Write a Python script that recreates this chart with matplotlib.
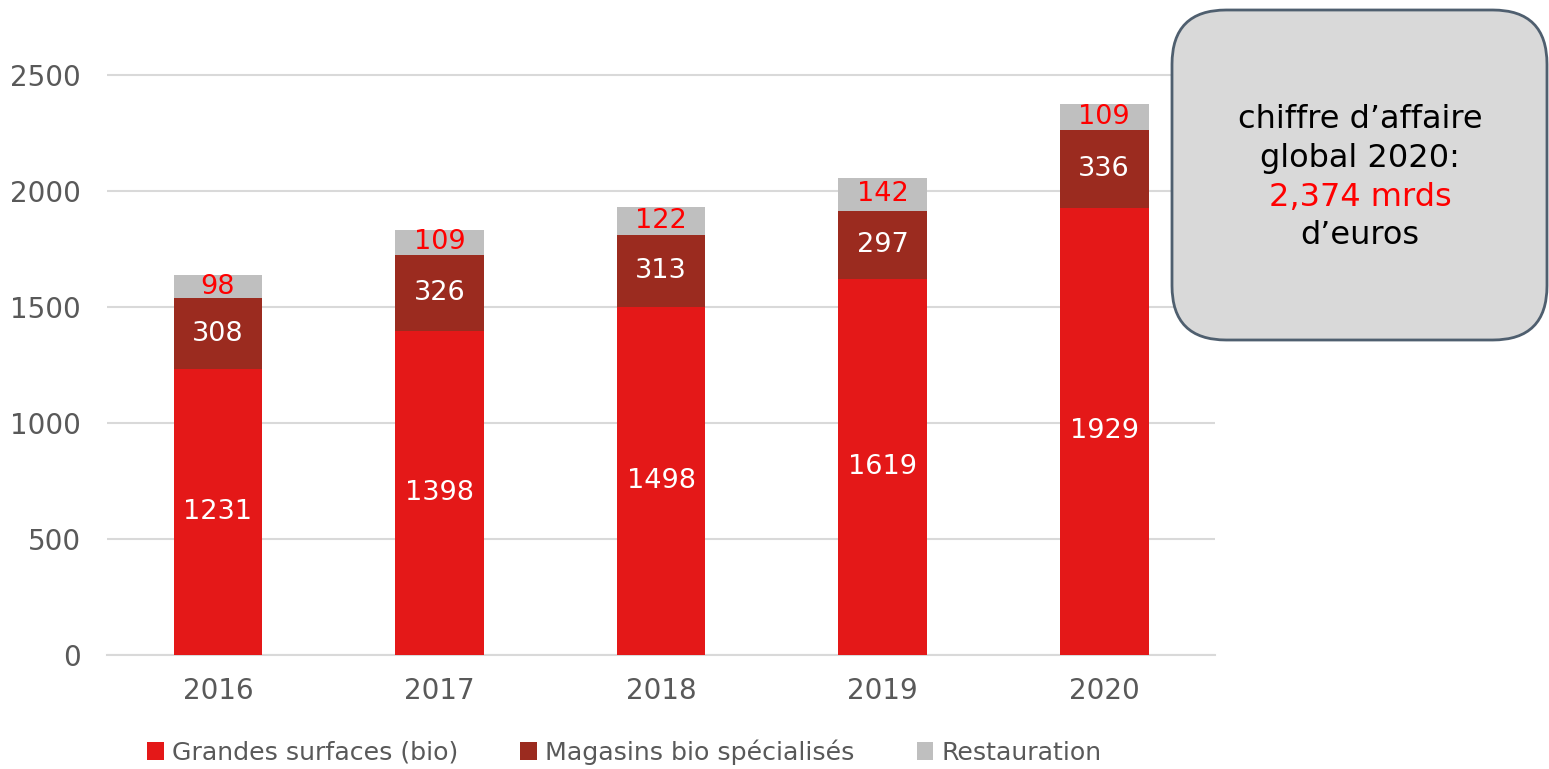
import matplotlib.pyplot as plt
from matplotlib.patches import FancyBboxPatch
import numpy as np

# Données (millions d'euros)
annees = ["2016", "2017", "2018", "2019", "2020"]
grandes_surfaces = [1231, 1398, 1498, 1619, 1929]
magasins_bio = [308, 326, 313, 297, 336]
restauration = [98, 109, 122, 142, 109]
series = ["Grandes surfaces (bio)", "Magasins bio spécialisés", "Restauration"]

rouge = "#E41818"
bordeaux = "#9B2B1F"
gris = "#BFBFBF"
texte_gris = "#595959"

fig = plt.figure(figsize=(15.49, 7.69), dpi=100)
ax = fig.add_axes([0.0691, 0.1482, 0.7153, 0.7844])

x = np.arange(len(annees))
largeur = 0.4
b1 = ax.bar(x, grandes_surfaces, largeur, color=rouge, label=series[0], zorder=3)
bas2 = np.array(grandes_surfaces)
b2 = ax.bar(x, magasins_bio, largeur, bottom=bas2, color=bordeaux, label=series[1], zorder=3)
bas3 = bas2 + np.array(magasins_bio)
b3 = ax.bar(x, restauration, largeur, bottom=bas3, color=gris, label=series[2], zorder=3)

# Étiquettes de valeurs
for i in range(len(annees)):
    ax.text(x[i], grandes_surfaces[i] / 2, str(grandes_surfaces[i]), ha="center", va="center",
            color="white", fontsize=19.5, zorder=4)
    ax.text(x[i], bas2[i] + magasins_bio[i] / 2, str(magasins_bio[i]), ha="center", va="center",
            color="white", fontsize=19.5, zorder=4)
    ax.text(x[i], bas3[i] + restauration[i] / 2, str(restauration[i]), ha="center", va="center",
            color="#FF0000", fontsize=19.5, zorder=4)

ax.set_xlim(-0.5, len(annees) - 0.5)
ax.set_ylim(0, 2600)
ax.set_yticks([0, 500, 1000, 1500, 2000, 2500])
ax.set_xticks(x)
ax.set_xticklabels(annees)
ax.tick_params(axis="both", length=0, labelsize=20, colors=texte_gris)
ax.tick_params(axis="y", pad=19)
ax.tick_params(axis="x", pad=16)
ax.grid(axis="y", color="#D9D9D9", linewidth=1.5, zorder=0)
for s in ["top", "right", "left"]:
    ax.spines[s].set_visible(False)
ax.spines["bottom"].set_color("#D9D9D9")
ax.spines["bottom"].set_linewidth(1.5)

leg = fig.legend(handles=[b1, b2, b3], labels=series, loc="center", bbox_to_anchor=(0.403, 0.022),
                 ncol=3, frameon=False, fontsize=18.2, handlelength=0.67, handleheight=0.67,
                 handletextpad=0.32, columnspacing=2.45)
for t in leg.get_texts():
    t.set_color(texte_gris)

# Encadré chiffre d'affaires
boite = FancyBboxPatch((1172 / 1549, 1 - 340 / 769), (1547 - 1172) / 1549, (340 - 10) / 769,
                       boxstyle="round,pad=0,rounding_size=0.035", transform=fig.transFigure,
                       facecolor="#D9D9D9", edgecolor="#4F5F6F", linewidth=2,
                       mutation_aspect=1549 / 769)
fig.patches.append(boite)
cx = 1360 / 1549
fig.text(cx, 1 - 120 / 769, "chiffre d’affaire", ha="center", va="center", fontsize=23)
fig.text(cx, 1 - 159 / 769, "global 2020:", ha="center", va="center", fontsize=23)
fig.text(cx, 1 - 197 / 769, "2,374 mrds", ha="center", va="center", fontsize=23, color="#FF0000")
fig.text(cx, 1 - 235 / 769, "d’euros", ha="center", va="center", fontsize=23)

fig.savefig("out.png", dpi=100)
